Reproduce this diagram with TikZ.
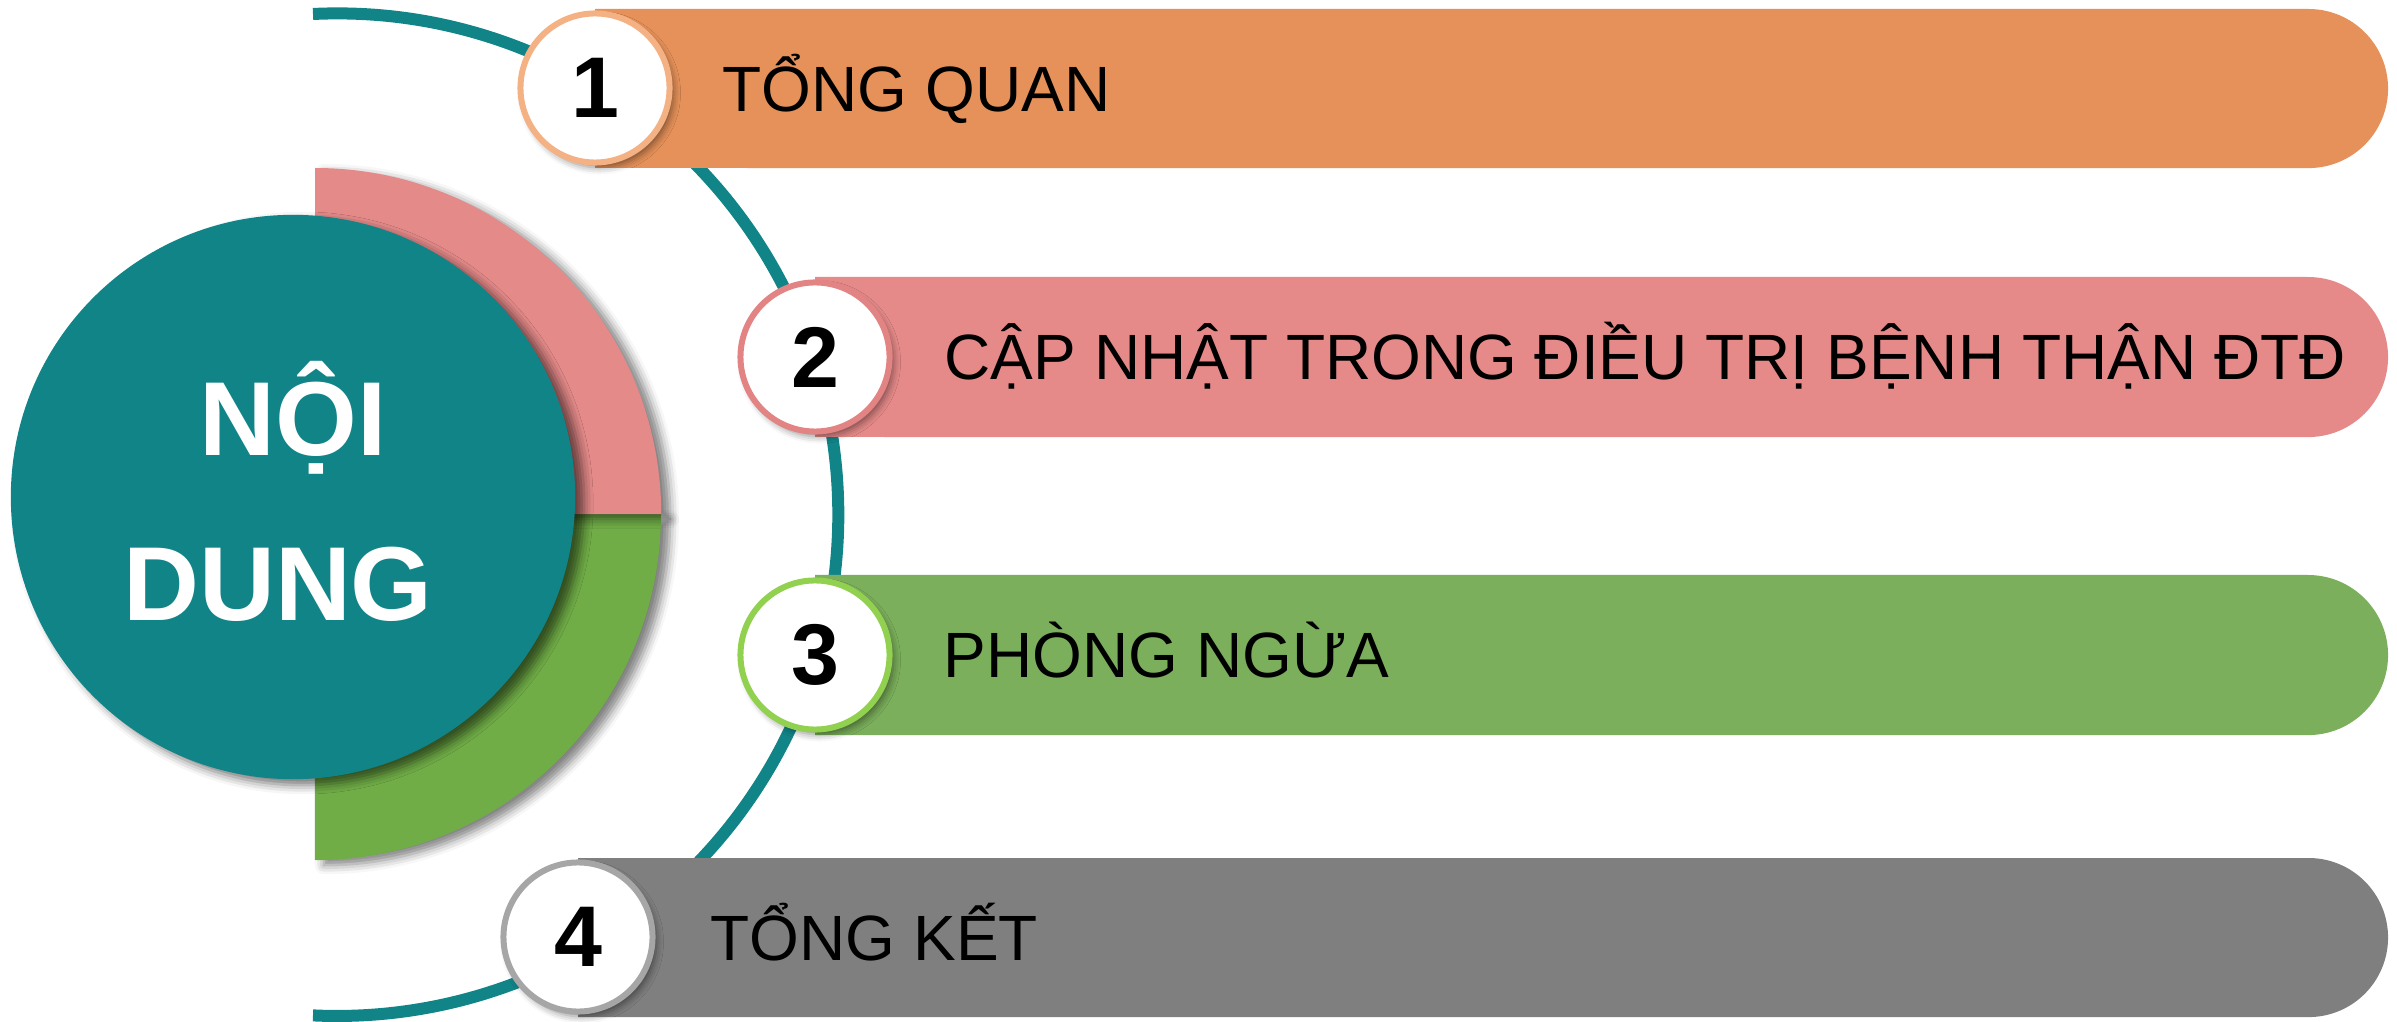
\documentclass[tikz,border=0pt]{standalone}
\usepackage{fontspec}
\setmainfont{Liberation Sans}
\usetikzlibrary{shadows.blur}
\definecolor{tealc}{RGB}{17,132,136}
\definecolor{pinkq}{RGB}{228,138,137}
\definecolor{greenq}{RGB}{112,173,71}
\definecolor{orangebar}{RGB}{230,145,89}
\definecolor{pinkbar}{RGB}{229,138,137}
\definecolor{greenbar}{RGB}{123,175,91}
\definecolor{graybar}{RGB}{127,127,127}
\definecolor{ring1}{RGB}{244,177,131}
\definecolor{ring2}{RGB}{226,132,131}
\definecolor{ring3}{RGB}{146,208,80}
\definecolor{ring4}{RGB}{166,166,166}
\tikzset{
  numc/.style={circle, fill=white, line width=0.06cm, minimum size=1.49cm, inner sep=0pt,
    font=\fontsize{24.5}{24.5}\selectfont\bfseries,
    blur shadow={shadow xshift=0.04cm, shadow yshift=-0.05cm, shadow blur radius=0.07cm, shadow opacity=45}},
  lbl/.style={anchor=base west, inner sep=0pt, font=\fontsize{18.2}{18.2}\selectfont},
  title/.style={anchor=base, inner sep=0pt, text=white, font=\fontsize{29.9}{29.9}\selectfont\bfseries},
  qshadow/.style={blur shadow={shadow xshift=0.09cm, shadow yshift=-0.05cm, shadow blur radius=0.09cm, shadow opacity=50}},
}
\begin{document}
\begin{tikzpicture}[x=0.01cm, y=-0.01cm]
\useasboundingbox (0,0) rectangle (2397,1022);
% half disc behind the main circle
\fill[greenq, qshadow] (315,514) -- (661,514) arc[start angle=0, end angle=-90, radius=3.46cm] -- cycle;
\fill[pinkq, qshadow] (315,514) -- (315,168) arc[start angle=90, end angle=0, radius=3.46cm] -- cycle;
% main circle
\node[circle, fill=tealc, minimum size=5.64cm, inner sep=0pt,
  blur shadow={shadow xshift=0.09cm, shadow yshift=-0.06cm, shadow blur radius=0.09cm, shadow opacity=55}] (main) at (293,497) {};
\node[title] (noi) at (293,456) {NỘI};
\node[title] (dung) at (278,620) {DUNG};
% teal arc
\draw[tealc, line width=0.12cm] (313,14) arc[start angle=92.75, end angle=-92.75, radius=5.01cm];
% bars
\fill[orangebar] (595,9) -- (2308.5,9) arc[start angle=90, end angle=-90, radius=0.795cm] -- (595,168) -- cycle;
\fill[pinkbar] (815,277) -- (2308,277) arc[start angle=90, end angle=-90, radius=0.80cm] -- (815,437) -- cycle;
\fill[greenbar] (815,575) -- (2308,575) arc[start angle=90, end angle=-90, radius=0.80cm] -- (815,735) -- cycle;
\fill[graybar] (578,858) -- (2308.5,858) arc[start angle=90, end angle=-90, radius=0.795cm] -- (578,1017) -- cycle;
% number circles
\node[numc, draw=ring1] (n1) at (595,88) {1};
\node[numc, draw=ring2] (n2) at (815,357) {2};
\node[numc, draw=ring3] (n3) at (815,655) {3};
\node[numc, draw=ring4] (n4) at (578,937) {4};
% labels
\node[lbl] (t1) at (722,111.5) {TỔNG QUAN};
\node[lbl] (t2) at (944,380) {CẬP NHẬT TRONG ĐIỀU TRỊ BỆNH THẬN ĐTĐ};
\node[lbl] (t3) at (943,678) {PHÒNG NGỪA};
\node[lbl] (t4) at (710,960.5) {TỔNG KẾT};
\end{tikzpicture}
\end{document}
